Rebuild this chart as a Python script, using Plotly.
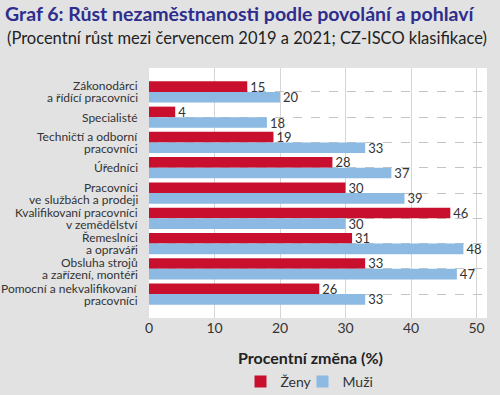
import plotly.graph_objects as go

categories = [
    "Zákonodárci<br>a řídící pracovníci",
    "Specialisté",
    "Techničtí a odborní<br>pracovníci",
    "Úředníci",
    "Pracovníci<br>ve službách a prodeji",
    "Kvalifikovaní pracovníci<br>v zemědělství",
    "Řemeslníci<br>a opraváři",
    "Obsluha strojů<br>a zařízení, montéři",
    "Pomocní a nekvalifikovaní<br>pracovníci",
]
zeny = [15, 4, 19, 28, 30, 46, 31, 33, 26]
muzi = [20, 18, 33, 37, 39, 30, 48, 47, 33]
x_ticks = [0, 10, 20, 30, 40, 50]

FONT = "Lato"
RED = "#c8102e"
BLUE = "#8cbae2"
TXT = "#333333"

L, R, T, B = 149, 13, 68, 77
PW = 500 - L - R
PH = 395 - T - B

fig = go.Figure()
fig.add_trace(go.Bar(
    y=categories, x=zeny, name="Ženy", orientation="h", legend="legend",
    marker=dict(color=RED, line=dict(width=0)),
    text=zeny, textposition="outside", cliponaxis=False, constraintext="none",
    textfont=dict(family=FONT, size=13, color=TXT),
))
fig.add_trace(go.Bar(
    y=categories, x=muzi, name="Muži", orientation="h", legend="legend2",
    marker=dict(color=BLUE, line=dict(width=0)),
    text=muzi, textposition="outside", cliponaxis=False, constraintext="none",
    textfont=dict(family=FONT, size=13, color=TXT),
))

# category labels as annotations (tighter line spacing than tick labels allow)
annotations = []
for cat in categories:
    lines = cat.split("<br>")
    n = len(lines)
    for i, line in enumerate(lines):
        annotations.append(dict(
            text=line, xref="paper", yref="y", x=-9 / PW, y=cat,
            xanchor="right", yanchor="middle",
            yshift=-(i - (n - 1) / 2) * 12.0,
            showarrow=False, font=dict(family=FONT, size=12, color=TXT),
        ))

annotations += [
    dict(
        text="(Procentní růst mezi červencem 2019 a 2021; CZ-ISCO klasifikace)",
        xref="paper", yref="paper",
        x=(5 - L) / PW, xanchor="left",
        y=(395 - B - 38) / PH, yanchor="middle",
        showarrow=False, font=dict(family=FONT, size=16.5, color="#222222"),
    ),
    dict(
        text="<b>Procentní změna (%)</b>",
        xref="paper", yref="paper",
        x=(310 - L) / PW, xanchor="center",
        y=(395 - B - 357) / PH, yanchor="middle",
        showarrow=False, font=dict(family=FONT, size=16, color="#222222"),
    ),
]

legend_common = dict(
    orientation="h", xanchor="left",
    y=(395 - B - 382) / PH, yanchor="middle",
    font=dict(family=FONT, size=14, color=TXT),
    bgcolor="rgba(0,0,0,0)", itemwidth=30,
)

fig.update_layout(
    width=500, height=395,
    margin=dict(l=L, r=R, t=T, b=B, autoexpand=False),
    paper_bgcolor="#e2e2e2",
    plot_bgcolor="#ffffff",
    barmode="group",
    bargap=0.15,
    bargroupgap=0.02,
    font=dict(family=FONT, color=TXT),
    title=dict(
        text="<b>Graf 6: Růst nezaměstnanosti podle povolání a pohlaví</b>",
        x=0.01, xanchor="left", xref="container",
        y=1 - 14 / 395, yanchor="middle", yref="container",
        font=dict(family=FONT, size=19.5, color="#2e2d8e"),
    ),
    showlegend=True,
    legend=dict(x=(240.5 - L) / PW, **legend_common),
    legend2=dict(x=(302.5 - L) / PW, **legend_common),
    xaxis=dict(
        range=[0, 51.6], tickvals=x_ticks, ticktext=[str(v) for v in x_ticks],
        showgrid=True, gridcolor="#d6d6d6", gridwidth=1,
        zeroline=False, showline=False, ticks="", automargin=False,
        tickfont=dict(family=FONT, size=14, color=TXT),
    ),
    yaxis=dict(
        range=[8.95, -0.95], type="category",
        showgrid=True, gridcolor="#c4c4c4", griddash="dash", gridwidth=1,
        showline=False, ticks="", showticklabels=False, automargin=False,
    ),
    annotations=annotations,
)

fig.write_html(
    "out.html",
    config={"displayModeBar": False},
    post_script="document.body.style.margin='0';document.body.style.overflow='hidden';",
)
